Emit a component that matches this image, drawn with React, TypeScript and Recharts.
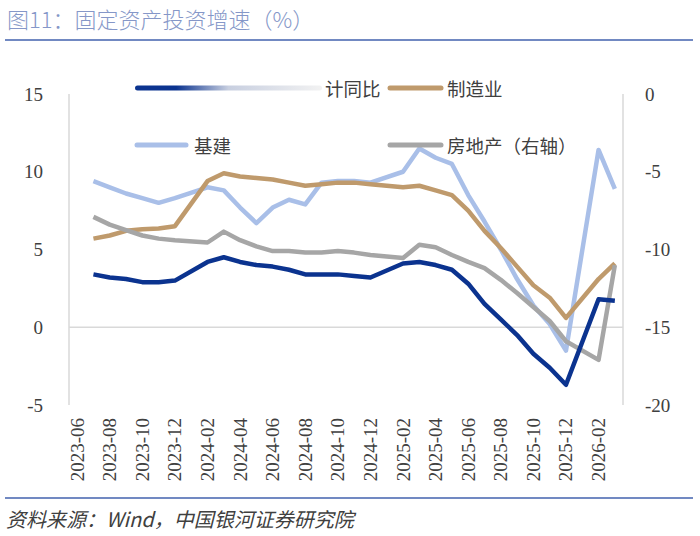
import React from 'react';
import { LineChart, Line, XAxis, YAxis, ReferenceLine } from 'recharts';

const months = [
  '2023-06', '2023-07', '2023-08', '2023-09', '2023-10', '2023-11', '2023-12',
  '2024-01', '2024-02', '2024-03', '2024-04', '2024-05', '2024-06', '2024-07',
  '2024-08', '2024-09', '2024-10', '2024-11', '2024-12', '2025-01', '2025-02',
  '2025-03', '2025-04', '2025-05', '2025-06', '2025-07', '2025-08', '2025-09',
  '2025-10', '2025-11', '2025-12', '2026-01', '2026-02', '2026-03',
];

const tickLabels = [
  '2023-06', '2023-08', '2023-10', '2023-12', '2024-02', '2024-04', '2024-06',
  '2024-08', '2024-10', '2024-12', '2025-02', '2025-04', '2025-06', '2025-08',
  '2025-10', '2025-12', '2026-02',
];

// 累计同比 (left axis)
const totalFAI = [
  null, 3.4, 3.2, 3.1, 2.9, 2.9, 3.0, null, 4.2, 4.5, 4.2, 4.0, 3.9, 3.7,
  3.4, 3.4, 3.4, 3.3, 3.2, null, 4.1, 4.2, 4.0, 3.7, 2.8, 1.5, 0.5, -0.5,
  -1.7, -2.6, -3.7, null, 1.8, 1.7,
];
// 制造业 (left axis)
const manufacturing = [
  null, 5.7, 5.9, 6.2, 6.3, 6.35, 6.5, null, 9.4, 9.9, 9.7, 9.6, 9.5, 9.3,
  9.1, 9.2, 9.3, 9.3, 9.2, null, 9.0, 9.1, 8.8, 8.5, 7.5, 6.2, 5.1, 3.9,
  2.7, 1.9, 0.6, null, 3.1, 4.1,
];
// 基建 (left axis)
const infrastructure = [
  null, 9.4, 9.0, 8.6, 8.3, 8.0, 8.3, null, 9.0, 8.8, 7.7, 6.7, 7.7, 8.2,
  7.9, 9.3, 9.4, 9.4, 9.3, null, 10.0, 11.5, 10.9, 10.5, 8.5, 6.8, 5.0, 3.1,
  1.4, 0.2, -1.5, null, 11.4, 8.9,
];
// 房地产 (right axis)
const realEstate = [
  null, -7.9, -8.4, -8.75, -9.1, -9.3, -9.4, null, -9.55, -8.85, -9.4, -9.8,
  -10.1, -10.1, -10.2, -10.2, -10.1, -10.2, -10.35, null, -10.55, -9.7, -9.85,
  -10.35, -10.8, -11.2, -11.95, -12.8, -13.7, -14.6, -15.9, null, -17.1, -11.0,
];

const leftTicks = [-5, 0, 5, 10, 15];
const rightTicks = [-20, -15, -10, -5, 0];

const data = months.map((m, i) => ({
  i,
  month: m,
  total: totalFAI[i],
  manu: manufacturing[i],
  infra: infrastructure[i],
  re: realEstate[i],
}));

const xTicks = tickLabels.map((l) => months.indexOf(l));

const C_TOTAL = '#0b338f';
const C_MANU = '#bf9a6c';
const C_INFRA = '#a9bfe8';
const C_RE = '#a6a6a6';
const AXIS_C = '#d9d9d9';
const TEXT_C = '#404040';
const SERIF = '"Liberation Serif", "Times New Roman", serif';
const CJK = '"Noto Sans CJK SC", "Noto Sans", sans-serif';

const XTick = (props: any) => {
  const { x, y, payload } = props;
  return (
    <text
      x={x}
      y={y}
      transform={`rotate(-90 ${x} ${y})`}
      textAnchor="end"
      dominantBaseline="central"
      fontFamily={SERIF}
      fontSize={19}
      fill={TEXT_C}
    >
      {months[payload.value]}
    </text>
  );
};

const Legend = () => (
  <svg
    width={700}
    height={536}
    style={{ position: 'absolute', left: 0, top: 0, pointerEvents: 'none' }}
  >
    <defs>
      <linearGradient id="fadeBlue" x1="135" y1="0" x2="322" y2="0" gradientUnits="userSpaceOnUse">
        <stop offset="0" stopColor={C_TOTAL} />
        <stop offset="0.22" stopColor={C_TOTAL} />
        <stop offset="0.5" stopColor="#c8cfe0" />
        <stop offset="1" stopColor="#f2f2f2" />
      </linearGradient>
    </defs>
    <rect x={135} y={85.5} width={187} height={5} rx={2.5} fill="url(#fadeBlue)" />
    <text x={325} y={88} dominantBaseline="central" fontFamily={CJK} fontSize={18.5} fill={TEXT_C}>计同比</text>
    <line x1={390} y1={88} x2={441} y2={88} stroke={C_MANU} strokeWidth={5} strokeLinecap="round" />
    <text x={447} y={88} dominantBaseline="central" fontFamily={CJK} fontSize={18.5} fill={TEXT_C}>制造业</text>
    <line x1={137} y1={145} x2={186} y2={145} stroke={C_INFRA} strokeWidth={5} strokeLinecap="round" />
    <text x={194} y={145} dominantBaseline="central" fontFamily={CJK} fontSize={18.5} fill={TEXT_C}>基建</text>
    <line x1={390} y1={145} x2={441} y2={145} stroke={C_RE} strokeWidth={5} strokeLinecap="round" />
    <text x={447} y={145} dominantBaseline="central" fontFamily={CJK} fontSize={18.5} fill={TEXT_C}>房地产（右轴）</text>
  </svg>
);

export default function App() {
  return (
    <div style={{ position: 'relative', width: 700, height: 536, background: '#fff', overflow: 'hidden' }}>
      <style>{'body{margin:0;}'}</style>
      <div
        style={{
          position: 'absolute', left: 7, top: 3, fontFamily: CJK, fontSize: 22, fontWeight: 300,
          color: '#8597c8', whiteSpace: 'nowrap', lineHeight: '30px',
        }}
      >
        图11：固定资产投资增速（%）
      </div>
      <div style={{ position: 'absolute', left: 5, top: 39, width: 688, height: 2, background: '#7189c2' }} />
      <LineChart
        width={700}
        height={536}
        data={data}
        margin={{ top: 94, right: 0, bottom: 0, left: 0 }}
      >
        <XAxis
          dataKey="i"
          type="number"
          domain={[-0.5, months.length - 0.5]}
          ticks={xTicks}
          interval={0}
          height={131}
          axisLine={false}
          tickLine={false}
          tickSize={0}
          tickMargin={13}
          tick={<XTick />}
          allowDataOverflow
        />
        <YAxis
          yAxisId="left"
          domain={[-5, 15]}
          ticks={leftTicks}
          width={69}
          axisLine={{ stroke: AXIS_C, strokeWidth: 1.5 }}
          tickLine={false}
          tickSize={0}
          tickMargin={26}
          tick={{ fontFamily: SERIF, fontSize: 19, fill: TEXT_C }}
          allowDataOverflow
        />
        <YAxis
          yAxisId="right"
          orientation="right"
          domain={[-20, 0]}
          ticks={rightTicks}
          width={77}
          axisLine={{ stroke: AXIS_C, strokeWidth: 1.5 }}
          tickLine={false}
          tickSize={0}
          tickMargin={22}
          tick={{ fontFamily: SERIF, fontSize: 19, fill: TEXT_C, textAnchor: 'start' }}
          allowDataOverflow
        />
        <ReferenceLine yAxisId="left" y={0} stroke={AXIS_C} strokeWidth={1.5} />
        <Line yAxisId="left" dataKey="infra" stroke={C_INFRA} strokeWidth={4.5} dot={false} connectNulls isAnimationActive={false} strokeLinejoin="round" />
        <Line yAxisId="left" dataKey="manu" stroke={C_MANU} strokeWidth={4.5} dot={false} connectNulls isAnimationActive={false} strokeLinejoin="round" />
        <Line yAxisId="right" dataKey="re" stroke={C_RE} strokeWidth={4.5} dot={false} connectNulls isAnimationActive={false} strokeLinejoin="round" />
        <Line yAxisId="left" dataKey="total" stroke={C_TOTAL} strokeWidth={4.5} dot={false} connectNulls isAnimationActive={false} strokeLinejoin="round" />
      </LineChart>
      <Legend />
      <div style={{ position: 'absolute', left: 5, top: 497, width: 688, height: 2, background: '#7189c2' }} />
      <div
        style={{
          position: 'absolute', left: 6, top: 505, fontFamily: CJK, fontSize: 20,
          fontStyle: 'italic', color: '#404040', whiteSpace: 'nowrap', lineHeight: '28px',
        }}
      >
        资料来源：Wind，中国银河证券研究院
      </div>
    </div>
  );
}
